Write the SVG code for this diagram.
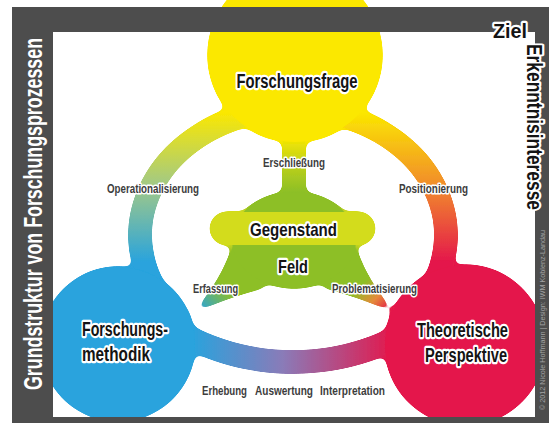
<svg xmlns="http://www.w3.org/2000/svg" width="549" height="423" viewBox="0 0 549 423">
  <defs>
    <linearGradient id="gLeft" gradientUnits="userSpaceOnUse" x1="0" y1="112" x2="0" y2="262">
      <stop offset="0" stop-color="#fbe800"/>
      <stop offset="0.5" stop-color="#9fc889"/>
      <stop offset="1" stop-color="#29a3dd"/>
    </linearGradient>
    <linearGradient id="gRight" gradientUnits="userSpaceOnUse" x1="0" y1="112" x2="0" y2="262">
      <stop offset="0" stop-color="#fbe800"/>
      <stop offset="0.5" stop-color="#f18a2c"/>
      <stop offset="1" stop-color="#e4174b"/>
    </linearGradient>
    <linearGradient id="gBottom" gradientUnits="userSpaceOnUse" x1="192" y1="0" x2="394" y2="0">
      <stop offset="0" stop-color="#29a3dd"/>
      <stop offset="0.45" stop-color="#8a7bb8"/>
      <stop offset="1" stop-color="#e4174b"/>
    </linearGradient>
    <linearGradient id="gStem" gradientUnits="userSpaceOnUse" x1="0" y1="138" x2="0" y2="192">
      <stop offset="0" stop-color="#f6e700"/>
      <stop offset="0.45" stop-color="#c2d21a"/>
      <stop offset="1" stop-color="#8dbf26"/>
    </linearGradient>
    <linearGradient id="gWedgeL" gradientUnits="userSpaceOnUse" x1="236" y1="266" x2="197" y2="308">
      <stop offset="0.4" stop-color="#8dbf26"/>
      <stop offset="1" stop-color="#29a3dd"/>
    </linearGradient>
    <linearGradient id="gWedgeR" gradientUnits="userSpaceOnUse" x1="352" y1="266" x2="391" y2="308">
      <stop offset="0.35" stop-color="#8dbf26"/>
      <stop offset="0.7" stop-color="#e58a3a"/>
      <stop offset="1" stop-color="#e4174b"/>
    </linearGradient>
    <!-- soft fillets where bands run into the discs -->
    <filter id="merge" x="-5%" y="-5%" width="110%" height="110%">
      <feGaussianBlur in="SourceGraphic" stdDeviation="4" result="blur"/>
      <feColorMatrix in="blur" type="matrix" values="1 0 0 0 0  0 1 0 0 0  0 0 1 0 0  0 0 0 18 -7" result="blob"/>
      <feComposite in="SourceGraphic" in2="blob" operator="atop"/>
    </filter>
    <style>
      .ring { fill: none; stroke-width: 22; }
      .big { font-family: "Liberation Sans Narrow", "Liberation Sans", Arial, sans-serif; font-weight: bold; fill: #141414; stroke: #ffffff; stroke-width: 4.5; stroke-linejoin: round; paint-order: stroke; }
      .small { font-family: "Liberation Sans Narrow", "Liberation Sans", Arial, sans-serif; font-weight: bold; font-size: 12px; fill: #3d3d3d; stroke: #ffffff; stroke-width: 3; stroke-linejoin: round; paint-order: stroke; }
      .title { font-family: "Liberation Sans", Arial, sans-serif; font-weight: bold; font-size: 18px; fill: #ffffff; }
      .credit { font-family: "Liberation Sans Narrow", "Liberation Sans", Arial, sans-serif; font-size: 7px; fill: #a3a3a3; }
    </style>
  </defs>

  <!-- page background -->
  <rect x="0" y="0" width="549" height="423" fill="#ffffff"/>

  <g filter="url(#merge)">
    <!-- connectors: ring between the three poles, stem and wedges from the centre -->
    <g id="connectors">
      <path class="ring" stroke="url(#gLeft)" d="M266,111 A153,126 0 0 0 175.8,316"/>
      <path class="ring" stroke="url(#gRight)" d="M320,111 A153,126 0 0 1 410.2,316"/>
      <path class="ring" stroke="url(#gBottom)" stroke-width="19" fill="none" d="M186,336 A233,233 0 0 0 400,336"/>
      <rect x="283" y="128" width="22" height="74" fill="url(#gStem)"/>
      <path d="M233,246 Q222,281 194,312 Q229,296 266,287 Z" fill="url(#gWedgeL)"/>
      <path d="M355,246 Q366,281 394,312 Q359,296 322,287 Z" fill="url(#gWedgeR)"/>
    </g>

    <!-- centre: Gegenstand / Feld -->
    <g id="gegenstand-feld">
      <ellipse cx="294" cy="240" rx="62" ry="48" fill="#8dbf26"/>
      <rect x="210" y="212" width="165" height="33" rx="16.5" fill="#d3dc1e"/>
    </g>

    <!-- poles -->
    <g id="forschungsfrage">
      <circle cx="295" cy="55" r="87" fill="#fbe800"/>
    </g>
    <g id="forschungsmethodik">
      <circle cx="118" cy="344" r="77" fill="#29a3dd"/>
    </g>
    <g id="theoretische-perspektive">
      <circle cx="465" cy="345" r="80" fill="#e4174b"/>
    </g>
  </g>

  <!-- connector labels -->
  <g id="connector-labels">
    <text class="small" x="294" y="167" text-anchor="middle" textLength="62" lengthAdjust="spacingAndGlyphs">Erschließung</text>
    <text class="small" x="153" y="193" text-anchor="middle" textLength="92" lengthAdjust="spacingAndGlyphs">Operationalisierung</text>
    <text class="small" x="433.5" y="193" text-anchor="middle" textLength="69" lengthAdjust="spacingAndGlyphs">Positionierung</text>
    <text class="small" x="215.5" y="293" text-anchor="middle" textLength="45" lengthAdjust="spacingAndGlyphs">Erfassung</text>
    <text class="small" x="374.5" y="293" text-anchor="middle" textLength="85" lengthAdjust="spacingAndGlyphs">Problematisierung</text>
    <text class="small" x="224.5" y="395" text-anchor="middle" textLength="45" lengthAdjust="spacingAndGlyphs">Erhebung</text>
    <text class="small" x="284" y="395" text-anchor="middle" textLength="58" lengthAdjust="spacingAndGlyphs">Auswertung</text>
    <text class="small" x="352.5" y="395" text-anchor="middle" textLength="65" lengthAdjust="spacingAndGlyphs">Interpretation</text>
  </g>

  <!-- node labels -->
  <g id="node-labels">
    <text class="big" x="293.5" y="236" font-size="19" text-anchor="middle" textLength="87" lengthAdjust="spacingAndGlyphs">Gegenstand</text>
    <text class="big" x="293" y="273" font-size="19" text-anchor="middle" textLength="30" lengthAdjust="spacingAndGlyphs">Feld</text>
    <text class="big" x="297" y="88" font-size="20" text-anchor="middle" textLength="121" lengthAdjust="spacingAndGlyphs">Forschungsfrage</text>
    <text class="big" x="82" y="336" font-size="20" textLength="86" lengthAdjust="spacingAndGlyphs">Forschungs-</text>
    <text class="big" x="82" y="361" font-size="20" textLength="68" lengthAdjust="spacingAndGlyphs">methodik</text>
    <text class="big" x="462.5" y="337" font-size="20" text-anchor="middle" textLength="91" lengthAdjust="spacingAndGlyphs">Theoretische</text>
    <text class="big" x="466" y="362" font-size="20" text-anchor="middle" textLength="82" lengthAdjust="spacingAndGlyphs">Perspektive</text>
  </g>

  <!-- dark frame -->
  <path fill="#4d4d4d" fill-rule="evenodd" d="M12,7 H549 V423 H12 Z M53,32 V417 H535 V32 Z"/>

  <g id="frame-texts">
    <text class="title" transform="translate(42,214) rotate(-90) scale(1,1.4)" text-anchor="middle" textLength="352" lengthAdjust="spacingAndGlyphs">Grundstruktur von Forschungsprozessen</text>
    <text class="big" x="510" y="38" font-size="21" text-anchor="middle" textLength="34" lengthAdjust="spacingAndGlyphs">Ziel</text>
    <text class="big" transform="translate(527,127) rotate(90)" font-size="22" text-anchor="middle" textLength="166" lengthAdjust="spacingAndGlyphs">Erkenntnisinteresse</text>
    <text class="credit" transform="translate(545,320) rotate(-90)" text-anchor="middle" textLength="180" lengthAdjust="spacingAndGlyphs">© 2012 Nicole Hoffmann  |  Design: IWM Koblenz-Landau</text>
  </g>
</svg>
